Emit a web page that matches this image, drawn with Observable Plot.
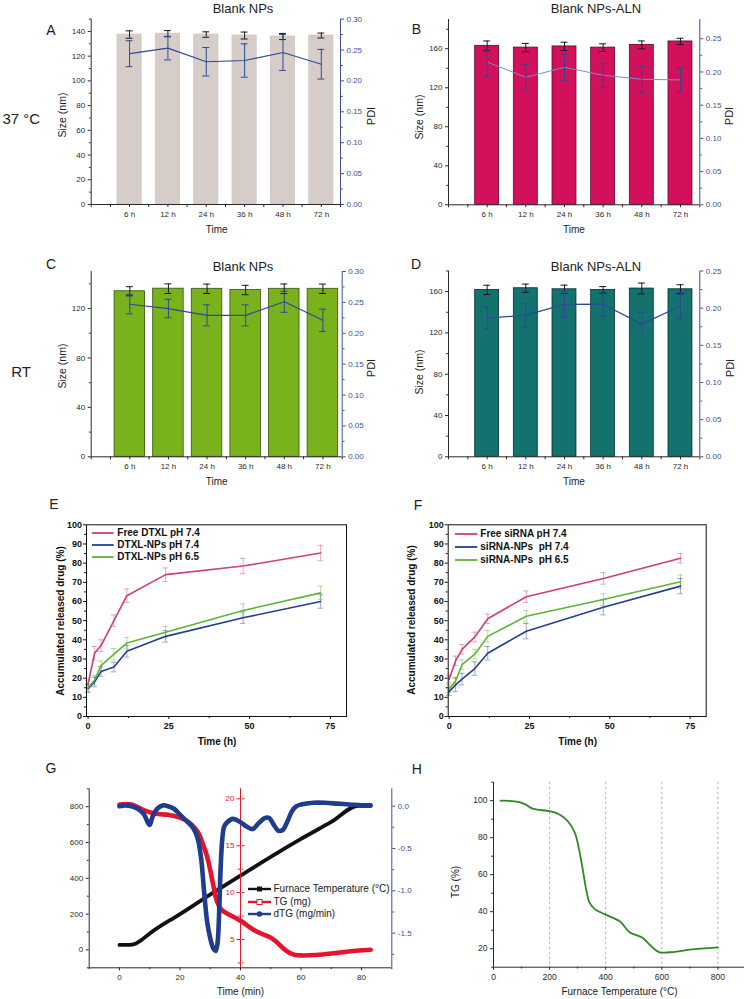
<!DOCTYPE html>
<html><head><meta charset="utf-8">
<script src="https://cdn.jsdelivr.net/npm/d3@7"></script>
<script src="https://cdn.jsdelivr.net/npm/@observablehq/plot@0.6"></script>
<style>
body{margin:0;background:#fff;}
#root{position:relative;width:745px;height:999px;overflow:hidden;background:#fff;font-family:"Liberation Sans",Arial,Helvetica,sans-serif;color:#222;}
</style></head>
<body><div id="root"></div>
<script>
// ---------- DATA ----------
const timeLabels = ["6 h", "12 h", "24 h", "36 h", "48 h", "72 h"];
// A: 37 °C Blank NPs
const sizeA = [137.5, 138.2, 137.5, 136.7, 135.9, 136.7];
const sizeErrA = [3, 2.5, 2.2, 2.8, 2.5, 2];
const pdiA = [0.244, 0.253, 0.231, 0.233, 0.246, 0.227];
const pdiErrA = [0.021, 0.019, 0.023, 0.027, 0.029, 0.024];
// B: 37 °C Blank NPs-ALN
const sizeB = [163, 161.2, 162.4, 161.2, 164, 167.5];
const sizeErrB = [5, 4.3, 4.3, 3.9, 4, 3.2];
const pdiB = [0.215, 0.192, 0.207, 0.195, 0.189, 0.188];
const pdiErrB = [0.022, 0.019, 0.02, 0.018, 0.0195, 0.0175];
// C: RT Blank NPs
const sizeC = [134, 136.1, 136, 135, 136, 136];
const sizeErrC = [3.7, 3.9, 3.8, 3.8, 3.9, 3.8];
const pdiC = [0.247, 0.240, 0.229, 0.229, 0.251, 0.221];
const pdiErrC = [0.0156, 0.015, 0.017, 0.017, 0.017, 0.018];
// D: RT Blank NPs-ALN
const sizeD = [161.7, 163.3, 162.3, 161.7, 163, 162.3];
const sizeErrD = [4.5, 4, 4, 3.2, 5.3, 4.4];
const pdiD = [0.1865, 0.1906, 0.205, 0.2053, 0.1785, 0.203];
const pdiErrD = [0.0152, 0.016, 0.0175, 0.016, 0.0157, 0.018];

// E / F: release
const releaseTimes = [0, 2, 4, 8, 12, 24, 48, 72];
const seriesE = ["Free DTXL pH 7.4", "DTXL-NPs pH 7.4", "DTXL-NPs pH 6.5"];
const freeDTXL = [17, 33, 37, 50, 63, 74, 78.5, 85.3];
const freeDTXLErr = [2, 3.5, 3, 3, 3.5, 3.5, 4, 4];
const dtxlNP74 = [14.5, 18, 23.5, 25.8, 34, 41.8, 51.5, 60];
const dtxlNP74Err = [2, 2.5, 2.5, 2.5, 3, 3, 3, 3.5];
const dtxlNP65 = [15, 19, 26.5, 32.5, 38.3, 44, 55.3, 64.5];
const dtxlNP65Err = [2, 2.5, 2.5, 3, 3, 3, 3.5, 3.5];
const seriesF = ["Free siRNA pH 7.4", "siRNA-NPs  pH 7.4", "siRNA-NPs  pH 6.5"];
const freeSiRNA = [19.5, 29, 35, 41.5, 51, 62.5, 72, 82.5];
const freeSiRNAErr = [2, 2.5, 2.5, 2.5, 2.5, 3, 3, 2.5];
const siNP74 = [13, 16.5, 19.5, 25, 33, 44.5, 57, 68];
const siNP74Err = [2, 3.5, 3, 3.5, 3.5, 4, 4, 4];
const siNP65 = [14.5, 18.5, 27, 32.5, 41.8, 52.3, 61, 70.3];
const siNP65Err = [2, 2, 2.5, 2.5, 3, 3, 3, 3.5];

// G: thermogram vs time
const gLegend = ["Furnace Temperature (°C)", "TG (mg)", "dTG (mg/min)"];
const furnaceTime = [0, 3.5, 5, 7, 10, 20, 31, 40, 50, 60, 70, 79, 83];
const furnaceTemp = [28, 28, 33, 52, 92, 200, 320, 415, 520, 620, 715, 805, 805];
const tgTime = [0, 4, 8, 12, 16, 20, 22, 24, 26, 28, 29, 30, 31, 32, 33, 34, 36, 40, 45, 50, 52, 54, 56, 58, 60, 65, 70, 75, 83];
const tgMass = [19.4, 19.4, 18.8, 18.4, 18.3, 18.0, 17.7, 17.2, 16.4, 14.8, 13.8, 12.4, 10.8, 9.3, 8.5, 8.1, 7.7, 7.0, 5.9, 5.2, 4.7, 4.1, 3.6, 3.35, 3.3, 3.35, 3.5, 3.7, 3.9];
const dtgTime = [0, 2, 4, 6, 8, 9.5, 10, 11, 12.5, 14.5, 16, 18, 20, 22, 24, 25, 26, 27, 28, 29, 30, 31, 31.8, 32.4, 32.9, 33.4, 34, 34.6, 35.6, 37.5, 40, 42, 44, 46, 48, 49.5, 51, 52.5, 54, 55.5, 57, 58.5, 60, 64, 68, 72, 76, 80, 83];
const dtgRate = [0, 0.01, 0, -0.03, -0.09, -0.2, -0.22, -0.12, -0.03, 0.01, 0, -0.03, -0.1, -0.17, -0.24, -0.3, -0.4, -0.62, -1.02, -1.37, -1.56, -1.68, -1.71, -1.62, -1.3, -0.76, -0.38, -0.24, -0.19, -0.15, -0.19, -0.24, -0.27, -0.2, -0.14, -0.14, -0.22, -0.29, -0.28, -0.18, -0.06, 0, 0.02, 0.04, 0.04, 0.03, 0.02, 0.01, 0.01];

// H: TG % vs furnace temperature
const hTemp = [25, 65, 95, 115, 135, 155, 200, 235, 265, 290, 305, 318, 330, 342, 360, 400, 450, 485, 530, 565, 590, 640, 700, 800];
const hTG = [100, 99.8, 99.1, 97.9, 96, 95.2, 94.3, 92.5, 88.9, 82.6, 73.7, 63, 52.2, 45, 41.5, 38.4, 34.8, 28.9, 26, 20.9, 18.2, 18.2, 19.5, 20.7];

// ---------- HELPERS ----------
const root = document.getElementById("root");
const FONT = '"Liberation Sans", Arial, Helvetica, sans-serif';
const baseStyle = {background: "transparent", fontFamily: FONT, overflow: "visible", maxWidth: "none", color: "#222"};
const AX = "#2a2a2a";
const BLUE_AX = "#3e4f98";

function mount(el, left, top, w, h) {
  const d = document.createElement("div");
  d.style.cssText = `position:absolute;left:${left}px;top:${top}px;width:${w}px;height:${h}px;`;
  d.appendChild(el);
  root.appendChild(d);
}
function txt(s, x, y, o = {}) {
  const d = document.createElement("div");
  d.textContent = s;
  const rot = o.rotate ? " rotate(-90deg)" : "";
  const tx = o.left ? "0" : "-50%";
  d.style.cssText = `position:absolute;left:${x}px;top:${y}px;white-space:pre;line-height:1;font-size:${o.size || 10}px;font-weight:${o.weight || "normal"};color:${o.color || "#222"};transform:translate(${tx},-50%)${rot};`;
  root.appendChild(d);
}
function swatch(x, y, w, color, sw, marker) {
  const s = d3.create("svg").attr("width", w).attr("height", 12)
    .style("position", "absolute").style("left", x + "px").style("top", (y - 6) + "px").style("overflow", "visible");
  s.append("line").attr("x1", 0).attr("x2", w).attr("y1", 6).attr("y2", 6).attr("stroke", color).attr("stroke-width", sw);
  if (marker === "square") s.append("rect").attr("x", w / 2 - 2.5).attr("y", 3.5).attr("width", 5).attr("height", 5).attr("fill", color);
  if (marker === "open") s.append("rect").attr("x", w / 2 - 2.5).attr("y", 3.5).attr("width", 5).attr("height", 5).attr("fill", "#fff").attr("stroke", color).attr("stroke-width", 1);
  if (marker === "circle") s.append("circle").attr("cx", w / 2).attr("cy", 6).attr("r", 2.8).attr("fill", color);
  root.appendChild(s.node());
}

// ---------- BAR + PDI PANELS ----------
function barPanel(p) {
  const rows = timeLabels.map((t, i) => ({i: i + 1, size: p.size[i], se: p.sizeErr[i], pdi: p.pdi[i], pe: p.pdiErr[i]}));
  const xd = [0, 6.5];
  const common = {width: p.w, height: p.h, marginLeft: p.ml, marginRight: p.mr, marginTop: p.mt, marginBottom: p.mb, style: baseStyle};
  const cap = 0.09;
  const sizePlot = Plot.plot({
    ...common,
    x: {domain: xd}, y: {domain: [0, p.sizeMax]},
    marks: [
      Plot.rect(rows, {x1: d => d.i - p.bw, x2: d => d.i + p.bw, y1: 0, y2: "size", fill: p.fill, stroke: p.stroke, strokeWidth: 0.8}),
      Plot.ruleX(rows, {x: "i", y1: d => d.size - d.se, y2: d => d.size + d.se, stroke: "#1a1a1a", strokeWidth: 1}),
      Plot.ruleY(rows, {y: d => d.size + d.se, x1: d => d.i - cap, x2: d => d.i + cap, stroke: "#1a1a1a", strokeWidth: 1}),
      Plot.ruleY(rows, {y: d => d.size - d.se, x1: d => d.i - cap, x2: d => d.i + cap, stroke: "#1a1a1a", strokeWidth: 1}),
      Plot.ruleX([xd[0]], {stroke: AX}),
      Plot.ruleY([0], {stroke: AX}),
      Plot.axisY({ticks: p.sizeTicks, tickSize: 3, tickPadding: 3, fontSize: 8, label: null, color: AX}),
      Plot.axisY({ticks: p.sizeMinor, tickSize: 1.8, tickFormat: () => "", label: null, color: AX}),
      Plot.axisX({ticks: d3.range(1, 7), tickFormat: i => timeLabels[i - 1], tickSize: 3, tickPadding: 4, fontSize: 8, label: null, color: AX}),
      Plot.axisX({ticks: [0, 0.5, 1.5, 2.5, 3.5, 4.5, 5.5, 6.5], tickSize: 3, tickFormat: () => "", label: null, color: AX})
    ]
  });
  const pdiPlot = Plot.plot({
    ...common,
    x: {domain: xd, axis: null}, y: {domain: [0, p.pdiMax]},
    marks: [
      Plot.line(rows, {x: "i", y: "pdi", stroke: p.lineColor, strokeWidth: p.lineWidth}),
      Plot.ruleX(rows, {x: "i", y1: d => d.pdi - d.pe, y2: d => d.pdi + d.pe, stroke: p.errColor, strokeWidth: 1}),
      Plot.ruleY(rows, {y: d => d.pdi + d.pe, x1: d => d.i - cap, x2: d => d.i + cap, stroke: p.errColor, strokeWidth: 1}),
      Plot.ruleY(rows, {y: d => d.pdi - d.pe, x1: d => d.i - cap, x2: d => d.i + cap, stroke: p.errColor, strokeWidth: 1}),
      Plot.ruleX([xd[1]], {stroke: BLUE_AX}),
      Plot.axisY({anchor: "right", ticks: p.pdiTicks, tickFormat: d => d.toFixed(2), tickSize: 3, tickPadding: 3, fontSize: 8, label: null, color: BLUE_AX}),
      Plot.axisY({anchor: "right", ticks: p.pdiMinor, tickSize: 1.8, tickFormat: () => "", label: null, color: BLUE_AX})
    ]
  });
  mount(sizePlot, p.left, p.top, p.w, p.h);
  mount(pdiPlot, p.left, p.top, p.w, p.h);
}

const pdiTicks30 = d3.range(0, 0.3001, 0.05), pdiMinor30 = d3.range(0.025, 0.3, 0.05);
const pdiTicks25 = d3.range(0, 0.2501, 0.05), pdiMinor25 = d3.range(0.025, 0.27, 0.05);

barPanel({left: 0, top: 0, w: 372, h: 240, ml: 90.7, mr: 32, mt: 18.6, mb: 36,
  size: sizeA, sizeErr: sizeErrA, pdi: pdiA, pdiErr: pdiErrA, bw: 0.315,
  sizeMax: 150, sizeTicks: d3.range(0, 141, 20), sizeMinor: d3.range(10, 151, 20),
  pdiMax: 0.3, pdiTicks: pdiTicks30, pdiMinor: pdiMinor30,
  fill: "#d7cdc8", stroke: "#d0c5c0", lineColor: "#2c4a97", lineWidth: 1.2, errColor: "#2c4a97"});
barPanel({left: 372, top: 0, w: 373, h: 240, ml: 76, mr: 45.7, mt: 19, mb: 35.7,
  size: sizeB, sizeErr: sizeErrB, pdi: pdiB, pdiErr: pdiErrB, bw: 0.31,
  sizeMax: 190, sizeTicks: d3.range(0, 161, 40), sizeMinor: d3.range(20, 181, 40),
  pdiMax: 0.279, pdiTicks: pdiTicks25, pdiMinor: pdiMinor25,
  fill: "#d3105c", stroke: "#5e0c2a", lineColor: "#7f8dc6", lineWidth: 1, errColor: "#34458a"});
barPanel({left: 0, top: 245, w: 372, h: 240, ml: 90.7, mr: 30.3, mt: 26, mb: 28.7,
  size: sizeC, sizeErr: sizeErrC, pdi: pdiC, pdiErr: pdiErrC, bw: 0.395,
  sizeMax: 150, sizeTicks: d3.range(0, 121, 40), sizeMinor: d3.range(20, 141, 40),
  pdiMax: 0.3, pdiTicks: pdiTicks30, pdiMinor: pdiMinor30,
  fill: "#79b21d", stroke: "#35530f", lineColor: "#2c4a97", lineWidth: 1.2, errColor: "#2c4a97"});
barPanel({left: 372, top: 245, w: 373, h: 240, ml: 76, mr: 45.7, mt: 25.5, mb: 28.7,
  size: sizeD, sizeErr: sizeErrD, pdi: pdiD, pdiErr: pdiErrD, bw: 0.31,
  sizeMax: 180, sizeTicks: d3.range(0, 161, 40), sizeMinor: d3.range(20, 181, 40),
  pdiMax: 0.25, pdiTicks: pdiTicks25, pdiMinor: pdiMinor25,
  fill: "#13726d", stroke: "#08302e", lineColor: "#2c4a97", lineWidth: 1.2, errColor: "#2c4a97"});

// ---------- RELEASE PANELS ----------
const releaseColors = ["#cb3f7d", "#243f92", "#5fb435"];
function releasePanel(p) {
  const rows = [];
  p.names.forEach((name, k) => releaseTimes.forEach((t, j) => rows.push({t, v: p.vals[k][j], e: p.errs[k][j], name})));
  const cap = 0.85;
  const svg = Plot.plot({
    width: p.w, height: p.h, marginLeft: p.ml, marginRight: p.mr, marginTop: p.mt, marginBottom: p.mb,
    style: baseStyle,
    x: {domain: p.xd}, y: {domain: [0, 100]},
    color: {domain: p.names, range: releaseColors},
    marks: [
      Plot.ruleX(rows, {x: "t", y1: d => d.v - d.e, y2: d => d.v + d.e, stroke: "name", strokeOpacity: 0.5, strokeWidth: 0.9}),
      Plot.ruleY(rows, {y: d => d.v + d.e, x1: d => d.t - cap, x2: d => d.t + cap, stroke: "name", strokeOpacity: 0.5, strokeWidth: 0.9}),
      Plot.ruleY(rows, {y: d => d.v - d.e, x1: d => d.t - cap, x2: d => d.t + cap, stroke: "name", strokeOpacity: 0.5, strokeWidth: 0.9}),
      Plot.line(rows, {x: "t", y: "v", z: "name", stroke: "name", strokeWidth: 1.6}),
      Plot.frame({stroke: "#111", strokeWidth: 1}),
      Plot.axisY({ticks: d3.range(0, 101, 10), tickSize: 3, tickPadding: 1.5, fontSize: 9, fontWeight: "bold", label: null, color: "#111"}),
      Plot.axisY({ticks: d3.range(5, 100, 10), tickSize: 2, tickFormat: () => "", label: null, color: "#111"}),
      Plot.axisX({ticks: [0, 25, 50, 75], tickSize: 3, tickPadding: 3, fontSize: 9, fontWeight: "bold", label: null, color: "#111"}),
      Plot.axisX({ticks: [12.5, 37.5, 62.5], tickSize: 2, tickFormat: () => "", label: null, color: "#111"})
    ]
  });
  mount(svg, p.left, p.top, p.w, p.h);
}
releasePanel({left: 0, top: 495, w: 372, h: 250, ml: 86, mr: 26, mt: 29.3, mb: 29, xd: [-0.5, 80],
  names: seriesE, vals: [freeDTXL, dtxlNP74, dtxlNP65], errs: [freeDTXLErr, dtxlNP74Err, dtxlNP65Err]});
releasePanel({left: 372, top: 495, w: 373, h: 250, ml: 75.7, mr: 39.3, mt: 29.3, mb: 29, xd: [-0.3, 80],
  names: seriesF, vals: [freeSiRNA, siNP74, siNP65], errs: [freeSiRNAErr, siNP74Err, siNP65Err]});

// ---------- G ----------
const gX = [-10, 90];
const gCommon = {width: 420, height: 249, marginLeft: 88.7, marginRight: 28.7, marginTop: 38.3, marginBottom: 31.7, style: baseStyle};
const furnaceRows = furnaceTime.map((t, i) => ({t, v: furnaceTemp[i]}));
const tgRows = tgTime.map((t, i) => ({t, v: tgMass[i]}));
const dtgRows = dtgTime.map((t, i) => ({t, v: dtgRate[i]}));
const gY = [-100, 900];
const gMain = Plot.plot({
  ...gCommon,
  x: {domain: gX}, y: {domain: gY},
  marks: [
    Plot.ruleX([gX[0]], {stroke: AX}),
    Plot.ruleY([gY[0]], {stroke: AX}),
    Plot.line(furnaceRows, {x: "t", y: "v", stroke: "#111", strokeWidth: 3.8, curve: "monotone-x"}),
    Plot.axisY({ticks: d3.range(0, 801, 200), tickSize: 3, tickPadding: 3, fontSize: 8, label: null, color: AX}),
    Plot.axisY({ticks: d3.range(-100, 901, 200), tickSize: 1.8, tickFormat: () => "", label: null, color: AX}),
    Plot.axisX({ticks: d3.range(0, 81, 20), tickSize: 3, tickPadding: 4, fontSize: 8, label: null, color: AX}),
    Plot.axisX({ticks: d3.range(-10, 91, 20), tickSize: 1.8, tickFormat: () => "", label: null, color: AX})
  ]
});
mount(gMain, 0, 750, 420, 249);

const RED = "#e3142d";
const tgY = [1.98, 21.07];
const redAxis = Plot.plot({
  width: 40, height: 249, marginLeft: 30, marginRight: 9, marginTop: 38.3, marginBottom: 31.7, style: baseStyle,
  x: {domain: [-1, 1], axis: null}, y: {domain: tgY},
  marks: [
    Plot.ruleX([-1], {stroke: RED, strokeWidth: 1}),
    Plot.axisY({ticks: [5, 10, 15, 20], tickSize: 3.5, tickPadding: 2.5, fontSize: 8, label: null, color: RED}),
    Plot.axisY({anchor: "right", ticks: [5, 10, 15, 20], tickSize: 2.5, tickFormat: () => "", label: null, color: RED}),
    Plot.axisY({ticks: [2.5, 7.5, 12.5, 17.5], tickSize: 2, tickFormat: () => "", label: null, color: RED}),
    Plot.axisY({anchor: "right", ticks: [2.5, 7.5, 12.5, 17.5], tickSize: 1.5, tickFormat: () => "", label: null, color: RED})
  ]
});
mount(redAxis, 210.3, 750, 40, 249);

const tgPlot = Plot.plot({
  ...gCommon,
  x: {domain: gX, axis: null}, y: {domain: tgY, axis: null},
  marks: [Plot.line(tgRows, {x: "t", y: "v", stroke: RED, strokeWidth: 4.6, curve: "catmull-rom"})]
});
mount(tgPlot, 0, 750, 420, 249);

const BLUE = "#1f3c8d";
const dtgPlot = Plot.plot({
  ...gCommon,
  x: {domain: gX, axis: null}, y: {domain: [-1.909, 0.2055]},
  marks: [
    Plot.line(dtgRows, {x: "t", y: "v", stroke: BLUE, strokeWidth: 4.6, curve: "catmull-rom"}),
    Plot.ruleX([gX[1]], {stroke: BLUE_AX}),
    Plot.axisY({anchor: "right", ticks: [0, -0.5, -1, -1.5], tickFormat: d => d.toFixed(1), tickSize: 3, tickPadding: 3, fontSize: 8, label: null, color: BLUE_AX}),
    Plot.axisY({anchor: "right", ticks: [-0.25, -0.75, -1.25, -1.75], tickSize: 1.8, tickFormat: () => "", label: null, color: BLUE_AX})
  ]
});
mount(dtgPlot, 0, 750, 420, 249);

// G legend
const gLegendColors = ["#111", RED, BLUE];
const gLegendMarkers = ["square", "open", "circle"];
const gLegendY = [889.3, 902.3, 914.3];
gLegend.forEach((s, i) => {
  swatch(248.3, gLegendY[i], 23, gLegendColors[i], 2.4, gLegendMarkers[i]);
  txt(s, 273.5, gLegendY[i], {size: 10, left: true, color: "#222"});
});

// ---------- H ----------
const hRows = hTemp.map((t, i) => ({t, v: hTG[i]}));
const hX = [0, 894.8], hY = [10, 110];
const hPlot = Plot.plot({
  width: 373, height: 249, marginLeft: 121, marginRight: 1, marginTop: 31.7, marginBottom: 32.3, style: baseStyle,
  x: {domain: hX}, y: {domain: hY},
  marks: [
    Plot.ruleX([200, 400, 600, 800], {stroke: "#a0a0a0", strokeDasharray: "2.5,2.5", strokeWidth: 0.8}),
    Plot.ruleX([hX[0]], {stroke: AX}),
    Plot.ruleY([hY[0]], {stroke: AX}),
    Plot.line(hRows, {x: "t", y: "v", stroke: "#2f8a24", strokeWidth: 1.8, curve: "catmull-rom"}),
    Plot.axisY({ticks: d3.range(20, 101, 20), tickSize: 3, tickPadding: 3, fontSize: 8.5, label: null, color: AX}),
    Plot.axisY({ticks: d3.range(10, 111, 20), tickSize: 1.8, tickFormat: () => "", label: null, color: AX}),
    Plot.axisX({ticks: d3.range(0, 801, 200), tickSize: 3, tickPadding: 4, fontSize: 8.5, label: null, color: AX}),
    Plot.axisX({ticks: d3.range(100, 801, 200), tickSize: 1.8, tickFormat: () => "", label: null, color: AX})
  ]
});
mount(hPlot, 372, 750, 373, 249);

// ---------- LEGENDS E/F ----------
const legEY = [533, 545, 557.3];
seriesE.forEach((s, i) => { swatch(91.7, legEY[i], 21.6, releaseColors[i], 1.8); txt(s, 117.3, legEY[i], {size: 10, weight: "bold", left: true, color: "#111"}); });
const legFY = [534.3, 547.3, 560];
seriesF.forEach((s, i) => { swatch(454.7, legFY[i], 22.3, releaseColors[i], 1.8); txt(s, 480.3, legFY[i], {size: 10, weight: "bold", left: true, color: "#111"}); });

// ---------- TEXT LABELS ----------
txt("37 °C", 21.3, 118, {size: 15});
txt("RT", 21, 371, {size: 15});
txt("A", 51, 29.7, {size: 14}); txt("B", 416.3, 28.7, {size: 14});
txt("C", 51, 263.5, {size: 14}); txt("D", 416, 263.5, {size: 14});
txt("E", 53.8, 504.3, {size: 14}); txt("F", 418, 505, {size: 14});
txt("G", 51, 768, {size: 14}); txt("H", 416.7, 768.8, {size: 14});
txt("Blank NPs", 243, 7.8, {size: 13}); txt("Blank NPs-ALN", 596, 7.5, {size: 13});
txt("Blank NPs", 243, 266, {size: 13}); txt("Blank NPs-ALN", 596, 266, {size: 13});
txt("Size (nm)", 61.5, 114.5, {size: 10.5, rotate: true}); txt("Size (nm)", 419, 117, {size: 10.5, rotate: true});
txt("Size (nm)", 61.5, 366, {size: 10.5, rotate: true}); txt("Size (nm)", 419, 372, {size: 10.5, rotate: true});
txt("PDI", 371, 116, {size: 11, rotate: true}); txt("PDI", 729, 116, {size: 11, rotate: true});
txt("PDI", 371, 368, {size: 11, rotate: true}); txt("PDI", 730, 368, {size: 11, rotate: true});
txt("Time", 216.7, 229.7, {size: 10}); txt("Time", 574, 229.7, {size: 10});
txt("Time", 216.7, 481.5, {size: 10}); txt("Time", 574, 481.5, {size: 10});
txt("Accumulated released drug (%)", 61, 621, {size: 10, weight: "bold", rotate: true, color: "#111"});
txt("Accumulated released drug (%)", 412.3, 620, {size: 10, weight: "bold", rotate: true, color: "#111"});
txt("Time (h)", 217, 741.7, {size: 10, weight: "bold", color: "#111"});
txt("Time (h)", 577.7, 741.7, {size: 10, weight: "bold", color: "#111"});
txt("Time (min)", 240.5, 991.7, {size: 10});
txt("TG (%)", 455.5, 881.7, {size: 10, rotate: true});
txt("Furnace Temperature (°C)", 619.5, 991.7, {size: 10});
</script>
</body></html>
